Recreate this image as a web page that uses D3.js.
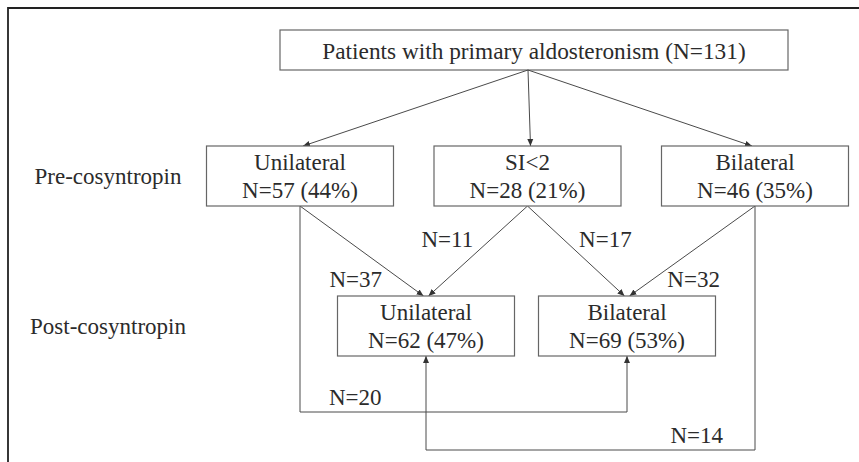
<!DOCTYPE html>
<html>
<head>
<meta charset="utf-8">
<script src="https://cdn.jsdelivr.net/npm/d3@7"></script>
<style>
  body { margin: 0; background: #fff; }
</style>
</head>
<body>
<script>

// data
var topLabel = "Patients with primary aldosteronism";
var totalN = 131;

var preLabels = ["Unilateral", "SI<2", "Bilateral"];
var preCounts = [57, 28, 46];
var prePcts = [44, 21, 35];

var postLabels = ["Unilateral", "Bilateral"];
var postCounts = [62, 69];
var postPcts = [47, 53];

var rowLabels = ["Pre-cosyntropin", "Post-cosyntropin"];

// flows from pre-cosyntropin to post-cosyntropin
var flowFrom = ["Unilateral", "SI<2", "SI<2", "Bilateral", "Unilateral", "Bilateral"];
var flowTo = ["Unilateral", "Unilateral", "Bilateral", "Bilateral", "Bilateral", "Unilateral"];
var flowN = [37, 11, 17, 32, 20, 14];


var width = 859, height = 462;
var textColor = "#2b2b2b";

// layout
var rowY = d3.scaleLinear().domain([0, 1, 2]).range([50, 176, 326]); // row centres
var xPre = d3.scalePoint().domain(preLabels).range([300, 755]);
var xPost = d3.scalePoint().domain(postLabels).range([426, 627]);
var topCx = 534, topSrcX = 528;
var topW = 508, topH = 40, preW = 187, postW = 177, boxH = 60;
var labelX = 108;
var lineGap = 28;          // between the two lines in a box
var fs = 23;               // font size
// routed flows (going around the boxes): channel y
var channelY = { "Unilateral>Bilateral": 412, "Bilateral>Unilateral": 450 };
// label placement along each flow
var labelPlace = [
  { t: 0.81, dx: -18, dy: 8, anchor: "end" },
  { t: 0.367, dx: -18, dy: 8, anchor: "end" },
  { t: 0.367, dx: 16, dy: 8, anchor: "start" },
  { t: 0.81, dx: 14, dy: 8, anchor: "start" },
  { dx: 29, dy: -7, anchor: "start" },
  { dx: -32, dy: -7, anchor: "end" }
];

var svg = d3.select("body").append("svg")
    .attr("width", width)
    .attr("height", height)
    .style("font-family", "Liberation Serif");

svg.append("defs").append("marker")
    .attr("id", "arrow")
    .attr("markerUnits", "userSpaceOnUse")
    .attr("markerWidth", 10)
    .attr("markerHeight", 10)
    .attr("viewBox", "0 -5 10 10")
    .attr("refX", 7)
    .attr("refY", 0)
    .attr("orient", "auto")
  .append("path")
    .attr("d", "M0,-3L7,0L0,3Z")
    .attr("fill", "#333");

// frame (top and left edge of the figure)
svg.append("path")
    .attr("d", "M8," + height + "V8H" + width)
    .attr("fill", "none")
    .attr("stroke", "#222")
    .attr("stroke-width", 1.8);

var edgeColor = "#4a4a4a";

// top node
var topBottom = rowY(0) + topH / 2;
svg.append("rect")
    .attr("x", topCx - topW / 2).attr("y", rowY(0) - topH / 2)
    .attr("width", topW).attr("height", topH)
    .attr("fill", "none").attr("stroke", "#666").attr("stroke-width", 1.2);
svg.append("text")
    .attr("x", topCx).attr("y", rowY(0) + 9)
    .attr("text-anchor", "middle")
    .attr("fill", textColor)
    .style("font-family", "Liberation Serif")
    .style("font-size", "23.3px")
    .text(topLabel + " (N=" + totalN + ")");

// arrows top -> pre
var preTop = rowY(1) - boxH / 2;
svg.selectAll(".top-edge").data(preLabels).enter().append("line")
    .attr("class", "top-edge")
    .attr("x1", topSrcX).attr("y1", topBottom)
    .attr("x2", function(d) { var cx = xPre(d); return cx + Math.sign(topSrcX - cx) * 3; })
    .attr("y2", preTop)
    .attr("stroke", edgeColor).attr("stroke-width", 1)
    .attr("marker-end", "url(#arrow)");

// flows pre -> post
var preBottom = rowY(1) + boxH / 2;
var postTop = rowY(2) - boxH / 2;
var postBottom = rowY(2) + boxH / 2;

var flows = flowN.map(function(n, i) {
  var from = flowFrom[i], to = flowTo[i];
  var key = from + ">" + to;
  var x0 = xPre(from), x1 = xPost(to);
  var f = { n: n, place: labelPlace[i] };
  if (channelY[key] !== undefined) {
    var cy = channelY[key];
    f.routed = true;
    f.points = [[x0, preBottom], [x0, cy], [x1, cy], [x1, postBottom]];
  } else {
    var tx = x1 + Math.sign(x0 - x1) * 2.5;
    f.points = [[x0, preBottom], [tx, postTop]];
  }
  return f;
});

svg.selectAll(".flow").data(flows).enter().append("path")
    .attr("class", "flow")
    .attr("d", function(d) { return d3.line()(d.points); })
    .attr("fill", "none")
    .attr("stroke", edgeColor).attr("stroke-width", 1)
    .attr("marker-end", "url(#arrow)");

svg.selectAll(".flow-label").data(flows).enter().append("text")
    .attr("class", "flow-label")
    .attr("x", function(d) {
      var p = d.place;
      if (d.routed) return d.points[1][0] + p.dx;
      var a = d.points[0], b = d.points[1];
      return a[0] + (b[0] - a[0]) * p.t + p.dx;
    })
    .attr("y", function(d) {
      var p = d.place;
      if (d.routed) return d.points[1][1] + p.dy;
      var a = d.points[0], b = d.points[1];
      return a[1] + (b[1] - a[1]) * p.t + p.dy;
    })
    .attr("text-anchor", function(d) { return d.place.anchor; })
    .attr("fill", textColor)
    .style("font-family", "Liberation Serif")
    .style("font-size", fs + "px")
    .text(function(d) { return "N=" + d.n; });

// boxes
function drawBoxes(labels, counts, pcts, xs, w, row, cls) {
  var g = svg.selectAll("." + cls).data(labels).enter().append("g")
      .attr("class", cls)
      .attr("transform", function(d) { return "translate(" + xs(d) + "," + rowY(row) + ")"; });
  g.append("rect")
      .attr("x", -w / 2).attr("y", -boxH / 2)
      .attr("width", w).attr("height", boxH)
      .attr("fill", "#fff").attr("stroke", "#666").attr("stroke-width", 1.2);
  g.append("text")
      .attr("text-anchor", "middle")
      .attr("y", -boxH / 2 + 24)
      .attr("fill", textColor)
      .style("font-family", "Liberation Serif")
      .style("font-size", fs + "px")
      .text(function(d) { return d; });
  g.append("text")
      .attr("text-anchor", "middle")
      .attr("y", -boxH / 2 + 24 + lineGap)
      .attr("fill", textColor)
      .style("font-family", "Liberation Serif")
      .style("font-size", fs + "px")
      .text(function(d, i) { return "N=" + counts[i] + " (" + pcts[i] + "%)"; });
}

drawBoxes(preLabels, preCounts, prePcts, xPre, preW, 1, "pre");
drawBoxes(postLabels, postCounts, postPcts, xPost, postW, 2, "post");

// row labels
svg.selectAll(".row-label").data(rowLabels).enter().append("text")
    .attr("class", "row-label")
    .attr("x", labelX)
    .attr("y", function(d, i) { return rowY(i + 1) + 8; })
    .attr("text-anchor", "middle")
    .attr("fill", textColor)
    .style("font-family", "Liberation Serif")
    .style("font-size", fs + "px")
    .text(function(d) { return d; });

</script>
</body>
</html>
